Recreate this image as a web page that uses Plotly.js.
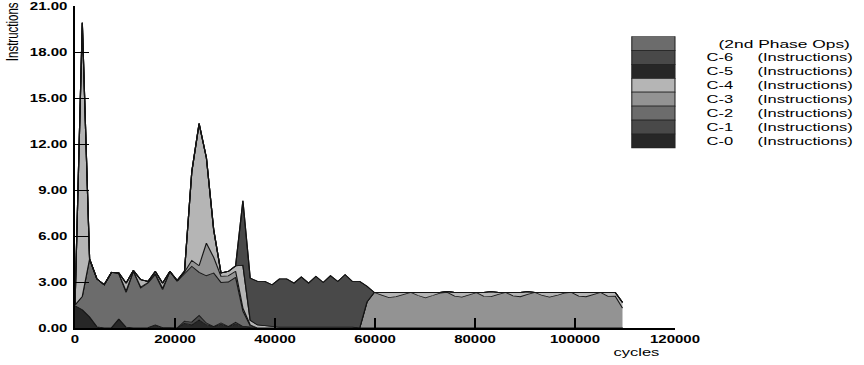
<!DOCTYPE html>
<html>
<head>
<meta charset="utf-8">
<script src="https://cdn.plot.ly/plotly-3.0.1.min.js"></script>
<style>
  html, body { margin: 0; padding: 0; background: #fff; }
  #wrap { width: 864px; height: 365px; overflow: hidden; }
  /* the chart is laid out at 576px wide and widened 1.5x, giving the broad lettering */
  #chart { width: 576px; height: 365px; transform: scaleX(1.5); transform-origin: 0 0; }
</style>
</head>
<body>
<div id="wrap"><div id="chart"></div></div>
<script>
// sample times (cycles)
const cycles = [0, 1460, 2920, 4380, 5840, 7300, 8760, 10220, 11680, 13140,
  14600, 16060, 17520, 18980, 20440, 21900, 23360, 24820, 26280, 27740,
  29200, 30660, 32120, 33580, 35040, 36500, 37960, 39420, 40880, 42340,
  43800, 45260, 46720, 48180, 49640, 51100, 52560, 54020, 55480, 56940,
  58400, 59860, 61320, 62780, 64240, 65700, 67160, 68620, 70080, 71540,
  73000, 74460, 75920, 77380, 78840, 80300, 81760, 83220, 84680, 86140,
  87600, 89060, 90520, 91980, 93440, 94900, 96360, 97820, 99280, 100740,
  102200, 103660, 105120, 106580, 108040, 109500];

// instructions per sample, one array per core (stacked bottom to top)
const c0 = [1.45, 1.19, 0.72, 0.08, 0, 0.02, 0.59, 0.05, 0, 0,
  0.02, 0.2, 0.02, 0.02, 0, 0.3, 0.2, 0.52, 0.2, 0.1,
  0.23, 0.1, 0.25, 0.1, 0.05, 0, 0, 0, 0, 0,
  0, 0, 0, 0, 0, 0, 0, 0, 0, 0,
  0, 0, 0, 0, 0, 0, 0, 0, 0, 0,
  0, 0, 0, 0, 0, 0, 0, 0, 0, 0,
  0, 0, 0, 0, 0, 0, 0, 0, 0, 0,
  0, 0, 0, 0, 0, 0];
const c1 = [0, 0, 0, 0, 0, 0, 0, 0, 0, 0,
  0, 0, 0, 0, 0, 0.15, 0.19, 0.3, 0.12, 0,
  0.1, 0, 0.12, 0, 0, 0, 0, 0, 0, 0,
  0, 0, 0, 0, 0, 0, 0, 0, 0, 0,
  0, 0, 0, 0, 0, 0, 0, 0, 0, 0,
  0, 0, 0, 0, 0, 0, 0, 0, 0, 0,
  0, 0, 0, 0, 0, 0, 0, 0, 0, 0,
  0, 0, 0, 0, 0, 0];
const c2 = [0.05, 0.87, 3.78, 3.12, 2.82, 3.61, 2.96, 2.27, 3.69, 2.61,
  2.91, 3.28, 2.48, 3.67, 3.04, 3.1, 3.63, 2.81, 3.09, 3.49,
  2.64, 2.9, 2.93, 1.0, 0.1, 0, 0, 0, 0, 0,
  0, 0, 0, 0, 0, 0, 0, 0, 0, 0,
  0, 0, 0, 0, 0, 0, 0, 0, 0, 0,
  0, 0, 0, 0, 0, 0, 0, 0, 0, 0,
  0, 0, 0, 0, 0, 0, 0, 0, 0, 0,
  0, 0, 0, 0, 0, 0];
const c3 = [0, 0, 0, 0, 0, 0, 0, 0.08, 0.02, 0.06,
  0.03, 0.06, 0.08, 0, 0.02, 0.1, 0.39, 0.43, 2.13, 1.01,
  0.4, 0.4, 0.4, 0.2, 0.05, 0, 0, 0, 0, 0,
  0, 0, 0, 0, 0, 0, 0, 0, 0, 0,
  1.7, 2.32, 2.15, 1.98, 2.05, 2.2, 2.32, 2.12, 1.97, 2.12,
  2.28, 2.32, 2.08, 2.02, 2.15, 2.3, 2.06, 2.05, 2.2, 2.32,
  2.1, 2.04, 2.2, 2.32, 2.12, 2.02, 2.12, 2.28, 2.32, 2.08,
  2.04, 2.2, 2.32, 2.06, 2.08, 1.3];
const c4 = [0, 17.84, 0, 0, 0, 0, 0.05, 0.53, 0.04, 0.48,
  0.08, 0.15, 0.35, 0, 0.04, 0.05, 5.79, 9.27, 5.56, 1.8,
  0.22, 0.29, 0.35, 2.8, 0.3, 0.2, 0.15, 0.1, 0.06, 0.06,
  0.06, 0.06, 0.06, 0.06, 0.06, 0.06, 0.06, 0.06, 0.06, 0,
  0, 0, 0.17, 0.34, 0.27, 0.12, 0, 0.2, 0.35, 0.2,
  0.04, 0.06, 0.24, 0.3, 0.17, 0.02, 0.26, 0.32, 0.12, 0,
  0.22, 0.28, 0.17, 0, 0.2, 0.3, 0.2, 0.04, 0, 0.24,
  0.28, 0.12, 0, 0.26, 0.24, 0.37];
const c5 = new Array(76).fill(0);
const c6 = [0, 0, 0, 0, 0, 0, 0, 0, 0, 0,
  0, 0, 0, 0, 0, 0, 0, 0, 0, 0,
  0, 0, 0, 4.2, 2.76, 2.84, 2.89, 2.72, 3.14, 3.14,
  2.87, 3.27, 2.87, 3.31, 2.91, 3.35, 2.98, 3.42, 2.98, 3.04,
  1.02, 0, 0, 0, 0, 0, 0, 0, 0, 0,
  0, 0, 0, 0, 0, 0, 0, 0, 0, 0,
  0, 0, 0, 0, 0, 0, 0, 0, 0, 0,
  0, 0, 0, 0, 0, 0];
const phase2 = new Array(76).fill(0);

const seriesNames = ['C-0', 'C-1', 'C-2', 'C-3', 'C-4', 'C-5', 'C-6', '(2nd Phase Ops)'];
const seriesValues = [c0, c1, c2, c3, c4, c5, c6, phase2];
const seriesColors = ['#272727', '#494949', '#6c6c6c', '#939393', '#b5b5b5', '#272727', '#494949', '#6c6c6c'];

const xTicks = [0, 20000, 40000, 60000, 80000, 100000, 120000];
const yTicks = [0, 3, 6, 9, 12, 15, 18, 21];

const W = 576, H = 365;
const M = { l: 50, r: 126, t: 6, b: 37 };
const PW = W - M.l - M.r, PH = H - M.t - M.b;
const px = v => (v - M.l) / PW;          // pixel -> paper x
const py = v => (H - M.b - v) / PH;      // pixel -> paper y

const traces = seriesValues.map((vals, i) => ({
  type: 'scatter',
  mode: 'lines',
  name: seriesNames[i],
  x: cycles,
  y: vals,
  stackgroup: 'cores',
  line: { color: '#141414', width: 0.8, shape: 'linear' },
  fillcolor: seriesColors[i],
  showlegend: false,
  hoverinfo: 'skip'
}));

const FONT = 'Liberation Sans, Arial, Helvetica, sans-serif';
const shapes = [];
const annotations = [];

// key box, top entry is the last stacked series
const rowTop = 36.5, rowH = 13.93;
for (let r = 0; r < seriesNames.length; r++) {
  const idx = seriesNames.length - 1 - r;
  const y0 = rowTop + rowH * r, y1 = y0 + rowH;
  shapes.push({
    type: 'rect', xref: 'paper', yref: 'paper',
    x0: px(421.2), x1: px(450), y0: py(y1), y1: py(y0),
    fillcolor: seriesColors[idx], line: { color: '#222', width: 0.7 }
  });
  const yc = py((y0 + y1) / 2);
  const name = seriesNames[idx];
  if (name.startsWith('(')) {
    annotations.push({ xref: 'paper', yref: 'paper', x: px(569), y: yc, xanchor: 'right', yanchor: 'middle',
      text: name, showarrow: false, font: { family: FONT, size: 11.6, color: '#000' } });
  } else {
    annotations.push({ xref: 'paper', yref: 'paper', x: px(469), y: yc, xanchor: 'left', yanchor: 'middle',
      text: name, showarrow: false, font: { family: FONT, size: 11, color: '#000' } });
    annotations.push({ xref: 'paper', yref: 'paper', x: px(503), y: yc, xanchor: 'left', yanchor: 'middle',
      text: '(Instructions)', showarrow: false, font: { family: FONT, size: 11, color: '#000' } });
  }
}

// axis captions
annotations.push({ xref: 'paper', yref: 'paper', x: px(8.2), y: py(32), textangle: -90,
  xanchor: 'center', yanchor: 'middle', text: 'Instructions', showarrow: false,
  font: { family: FONT, size: 11.5, color: '#000' } });
annotations.push({ xref: 'paper', yref: 'paper', x: px(424.7), y: py(352), xanchor: 'center', yanchor: 'middle',
  text: 'cycles', showarrow: false, font: { family: FONT, size: 11, color: '#000' } });

const layout = {
  width: W, height: H, autosize: false,
  margin: M,
  paper_bgcolor: '#fff', plot_bgcolor: '#fff',
  showlegend: false,
  hovermode: false,
  xaxis: {
    range: [0, 120000], tickmode: 'array', tickvals: xTicks, ticktext: xTicks.map(String),
    ticks: 'inside', ticklen: 10, tickwidth: 1, tickcolor: '#000',
    ticklabelstandoff: 2,
    showgrid: false, zeroline: false, showline: true, linecolor: '#000', linewidth: 1.5,
    tickfont: { family: FONT, size: 10, color: '#000', weight: 'bold' }
  },
  yaxis: {
    range: [0, 21], tickmode: 'array', tickvals: yTicks,
    // a trailing no-break space keeps a small gap before the axis line
    ticktext: yTicks.map(v => v.toFixed(2) + '\u00a0'),
    ticks: 'inside', ticklen: 9, tickwidth: 1, tickcolor: '#000',
    ticklabelstandoff: -1,
    showgrid: false, zeroline: false, showline: true, linecolor: '#000', linewidth: 1.3,
    tickfont: { family: FONT, size: 10, color: '#000', weight: 'bold' }
  },
  shapes: shapes,
  annotations: annotations
};

Plotly.newPlot('chart', traces, layout, { staticPlot: true, displayModeBar: false });
</script>
</body>
</html>
